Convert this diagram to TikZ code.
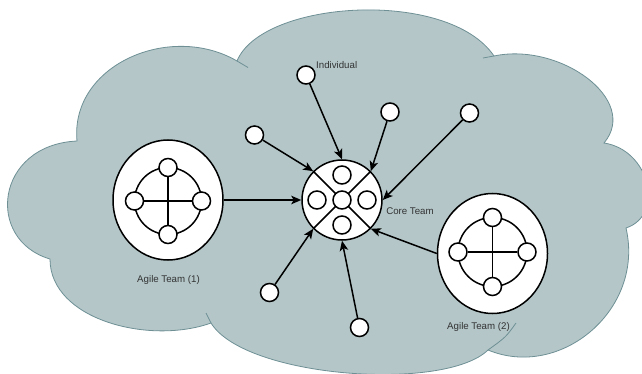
\documentclass[tikz,border=0pt]{standalone}
\usepackage{fontspec}
\setmainfont{Liberation Sans}
\usetikzlibrary{shapes.geometric,arrows.meta}
\definecolor{cloudfill}{RGB}{180,198,200}
\definecolor{cloudline}{RGB}{110,144,149}
\definecolor{labeltext}{RGB}{51,51,51}
\tikzset{
  ink/.style={line width=1.5pt},
  dot/.style={circle, draw, ink, fill=white, minimum size=18pt, inner sep=0pt},
  teambox/.style={ellipse, draw, ink, fill=white, minimum width=110pt, minimum height=120pt, inner sep=0pt},
  corebox/.style={circle, draw, ink, fill=white, minimum size=80pt, inner sep=0pt},
  link/.style={ink, -{Stealth[length=10pt,width=8.5pt,inset=2.5pt]}},
  lbl/.style={text=labeltext, font=\fontsize{9.7}{11}\selectfont, inner sep=0pt},
  cloudedge/.style={draw=cloudline, line width=0.8pt},
}
\begin{document}
\begin{tikzpicture}[x=1pt, y=-1pt]
  \useasboundingbox (0,0) rectangle (642,374);
  \fill[white] (0,0) rectangle (642,374);
  \clip (0,0) rectangle (642,374);

  % cloud outline, one Bezier hump after another
  \path[fill=cloudfill, cloudedge]
    (77,141) .. controls (70,65) and (170,22) .. (237,61)
    .. controls (262,0) and (448,-12) .. (494,56)
    .. controls (560,42) and (640,100) .. (604,143)
    .. controls (650,150) and (665,215) .. (626,228)
    .. controls (645,310) and (560,380) .. (488,350)
    .. controls (445,392) and (245,378) .. (211,323)
    .. controls (150,345) and (50,320) .. (50,259)
    .. controls (-15,240) and (-5,145) .. (77,141) -- cycle;
  % hump ends running on past the joins
  \draw[cloudedge] (237,61) -- (248,67.5);
  \draw[cloudedge] (483,58) -- (494,56);
  \draw[cloudedge] (516,323) .. controls (506,337) .. (488,350);
  \draw[cloudedge] (211,323) -- (206,313);

  % core team
  \node[corebox] (core) at (342,200) {};
  \draw[ink] (core.north west) -- (core.south east);
  \draw[ink] (core.north east) -- (core.south west);
  \node[dot] (cc) at (342,200) {};
  \node[dot] (cn) at (342,175) {};
  \node[dot] (cs) at (342,225) {};
  \node[dot] (cw) at (317,200) {};
  \node[dot] (ce) at (367,200) {};

  % agile team (1)
  \node[teambox] (ag1) at (168,200) {};
  \draw[ink] (168,201) circle[radius=33.5pt];
  \node[dot] (an1) at (168,167.5) {};
  \node[dot] (as1) at (168,234.5) {};
  \node[dot] (aw1) at (134.5,201) {};
  \node[dot] (ae1) at (201.5,201) {};
  \draw[ink] (an1) -- (as1);
  \draw[ink] (aw1) -- (ae1);

  % agile team (2)
  \node[teambox] (ag2) at (492.5,253.5) {};
  \draw[ink] (492.5,252) circle[radius=34.5pt];
  \node[dot] (an2) at (492.5,217.5) {};
  \node[dot] (as2) at (492.5,286.5) {};
  \node[dot] (aw2) at (458,252) {};
  \node[dot] (ae2) at (527,252) {};
  \draw[ink] (an2) -- (as2);
  \draw[ink] (aw2) -- (ae2);

  % individuals
  \node[dot] (i1) at (306,75) {};
  \node[dot] (i2) at (390,112) {};
  \node[dot] (i3) at (469.5,113) {};
  \node[dot] (i4) at (254.5,135) {};
  \node[dot] (i5) at (269.5,292.5) {};
  \node[dot] (i6) at (359.5,327.5) {};

  % connectors into the core team
  \draw[link] (i1) -- (core.north);
  \draw[link] (i2) -- (core.north east);
  \draw[link] (i3) -- (core.east);
  \draw[link] (i4) -- (core.north west);
  \draw[link] (ag1.east) -- (core.west);
  \draw[link] (i5) -- (core.south west);
  \draw[link] (i6) -- (core.south);
  \draw[link] (ag2.west) -- (core.south east);

  % labels
  \node[lbl] (tind) at (336.7,65) {Individual};
  \node[lbl] (tcore) at (410,211.5) {Core Team};
  \node[lbl] (tag1) at (168.5,280) {Agile Team (1)};
  \node[lbl] (tag2) at (478.5,326.5) {Agile Team (2)};
\end{tikzpicture}
\end{document}
